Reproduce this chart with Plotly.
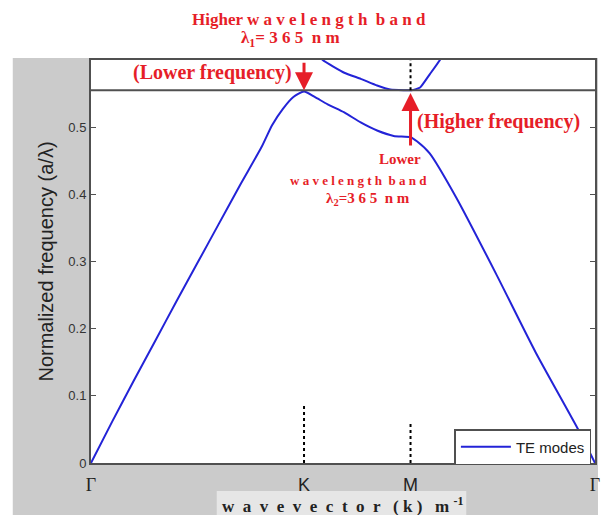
import plotly.graph_objects as go

# High-symmetry points along the path (hexagonal lattice, |ΓK| = 1)
sym_pos = [0.0, 1.0, 1.5, 2.366]
sym_labels = ["Γ", "K", "M", "Γ"]

# First TE band: Γ -> K -> M -> Γ
band1_k = [0.0, 0.1, 0.2, 0.3, 0.4, 0.5, 0.6, 0.7, 0.8, 0.85, 0.9, 0.95, 1.0,
           1.05, 1.111, 1.189, 1.266, 1.343, 1.421, 1.5,
           1.53, 1.59, 1.715, 1.901, 2.087, 2.287, 2.366]
band1_f = [0.0, 0.062, 0.122, 0.181, 0.240, 0.298, 0.356, 0.414, 0.470, 0.503, 0.527, 0.545, 0.553,
           0.545, 0.534, 0.522, 0.507, 0.495, 0.487, 0.485,
           0.479, 0.461, 0.395, 0.282, 0.165, 0.050, 0.0]

# Second TE band (only its minimum near M is inside the window)
band2_k = [1.05, 1.088, 1.189, 1.266, 1.343, 1.405, 1.468, 1.506, 1.545, 1.591, 1.638, 1.66]
band2_f = [0.615, 0.600, 0.581, 0.572, 0.562, 0.556, 0.555, 0.555, 0.559, 0.579, 0.600, 0.615]

gap_edge = 0.555          # band edge frequency
y_ticks = [0, 0.1, 0.2, 0.3, 0.4, 0.5]

W, H = 603, 515
ML, MR, MT, MB = 91, 3, 60, 52
PW, PH = W - ML - MR, H - MT - MB


def px(x):
    return (x - ML) / PW


def py(y):
    return (H - MB - y) / PH


BLUE = "rgb(35,35,215)"
RED = "rgb(230,30,40)"
AX = "#505050"

fig = go.Figure()
fig.add_trace(go.Scatter(x=band1_k, y=band1_f, mode="lines", name="TE modes",
                         line=dict(color=BLUE, width=2, shape="spline", smoothing=0.6)))
fig.add_trace(go.Scatter(x=band2_k, y=band2_f, mode="lines", showlegend=False,
                         line=dict(color=BLUE, width=2, shape="spline", smoothing=0.4)))

shapes = [
    # grey figure backdrop
    dict(type="rect", xref="paper", yref="paper", x0=px(12), x1=px(W), y0=py(H), y1=py(58),
         fillcolor="#cbcbcb", line=dict(width=0), layer="below"),
    # white axes area
    dict(type="rect", xref="paper", yref="paper", x0=0, x1=1, y0=0, y1=1,
         fillcolor="white", line=dict(width=0), layer="below"),
    # light box behind the x label
    dict(type="rect", xref="paper", yref="paper", x0=px(218), x1=px(470), y0=py(H), y1=py(491),
         fillcolor="#e6e6e6", line=dict(width=0), layer="below"),
    # band edge line
    dict(type="line", xref="paper", yref="y", x0=0, x1=1, y0=gap_edge, y1=gap_edge,
         line=dict(color=AX, width=2)),
    # dotted markers at K and M
    dict(type="line", xref="x", yref="y", x0=sym_pos[1], x1=sym_pos[1], y0=0, y1=0.089,
         line=dict(color="black", width=2, dash="dot")),
    dict(type="line", xref="x", yref="y", x0=sym_pos[2], x1=sym_pos[2], y0=0, y1=0.061,
         line=dict(color="black", width=2, dash="dot")),
    dict(type="line", xref="x", yref="y", x0=sym_pos[2], x1=sym_pos[2], y0=gap_edge, y1=0.6,
         line=dict(color="black", width=2, dash="dot")),
]

serif_b = dict(family="Liberation Serif", color=RED)

annotations = [
    dict(text="<b>Higher w a v e l e n g t h  b a n d</b>", x=px(311), y=py(20),
         font=dict(size=17, **serif_b)),
    dict(text="<b>λ<sub>1</sub>= 3 6 5  n m</b>", x=px(292), y=py(39),
         font=dict(size=17, **serif_b)),
    dict(text="<b>(Lower frequency)</b>", x=px(214), y=py(73),
         font=dict(size=20, **serif_b)),
    dict(text="<b>(Higher frequency)</b>", x=px(503), y=py(121),
         font=dict(size=20, **serif_b)),
    dict(text="<b>Lower</b>", x=px(403), y=py(159),
         font=dict(size=15, **serif_b)),
    dict(text="<b>w a v e l e n g t h  b a n d</b>", x=px(361), y=py(181),
         font=dict(size=13, **serif_b)),
    dict(text="<b>λ<sub>2</sub>=3 6 5  n m</b>", x=px(371), y=py(199),
         font=dict(size=15, **serif_b)),
    # x-axis label
    dict(text="<b>w  a  v  e  v  e  c  t  o  r   ( k )   m <sup>-1</sup></b>",
         x=px(345), y=py(505),
         font=dict(family="Liberation Serif", size=17, color="#222")),
]
for a in annotations:
    a.update(xref="paper", yref="paper", showarrow=False, xanchor="center", yanchor="middle")

# arrows pointing at the two band edges
annotations += [
    dict(x=sym_pos[1], y=gap_edge, xref="x", yref="y", ax=0, ay=-29, text="",
         showarrow=True, arrowhead=2, arrowsize=1.2, arrowwidth=3, arrowcolor=RED),
    dict(x=sym_pos[2], y=gap_edge - 0.004, xref="x", yref="y", ax=0, ay=54, text="",
         showarrow=True, arrowhead=2, arrowsize=1.2, arrowwidth=3, arrowcolor=RED),
]

tick_text = [
    f'<span style="font-family:Liberation Serif">{t}</span>' if t == "Γ" else t
    for t in sym_labels
]

fig.update_layout(
    width=W, height=H,
    margin=dict(l=ML, r=MR, t=MT, b=MB),
    paper_bgcolor="white", plot_bgcolor="white",
    shapes=shapes, annotations=annotations,
    showlegend=True,
    legend=dict(x=px(458), y=py(429), xanchor="left", yanchor="top",
                bgcolor="white", bordercolor=AX, borderwidth=1.5, itemwidth=50,
                font=dict(family="Liberation Sans", size=15, color="#222")),
    xaxis=dict(range=[sym_pos[0], sym_pos[-1]], tickvals=sym_pos, ticktext=tick_text,
               ticks="", showgrid=False, zeroline=False, ticklabeloverflow="allow",
               ticklabelstandoff=4,
               showline=True, linecolor=AX, linewidth=2, mirror=True,
               tickfont=dict(family="Liberation Sans", size=18, color="#222")),
    yaxis=dict(range=[0, 0.6], tickvals=y_ticks, ticks="inside", ticklen=5, tickcolor=AX,
               showgrid=False, zeroline=False,
               showline=True, linecolor=AX, linewidth=2, mirror="ticks",
               tickfont=dict(family="Liberation Sans", size=13, color="#333"),
               title=dict(text="Normalized frequency (a/λ)",
                          font=dict(family="Liberation Sans", size=20, color="#222"),
                          standoff=9)),
)

fig.write_html("out.html")
